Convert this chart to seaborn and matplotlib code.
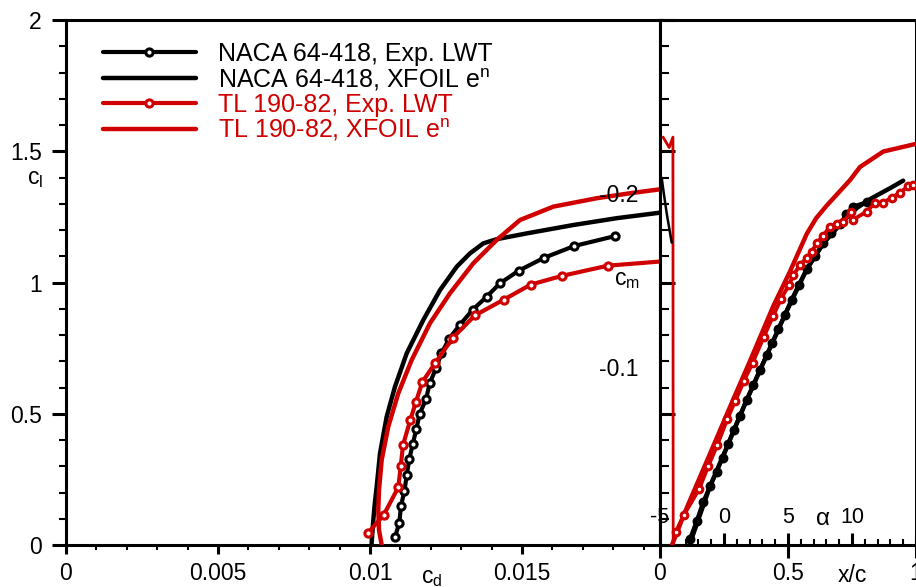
import numpy as np
import matplotlib
matplotlib.use("Agg")
import matplotlib.pyplot as plt
import seaborn as sns
from matplotlib.ticker import MultipleLocator, NullLocator

# ---------------- data ----------------
# drag polars (cl vs cd)
naca_exp_cd = [0.010822, 0.010964, 0.011020, 0.011135, 0.011207, 0.011293, 0.011405, 0.011523,
               0.011635, 0.011842, 0.011964, 0.012171, 0.012352, 0.012599, 0.012951, 0.013378,
               0.013839, 0.014276, 0.014891, 0.015724, 0.016720, 0.018066]
naca_exp_cl = [0.029, 0.085, 0.149, 0.207, 0.265, 0.327, 0.384, 0.441, 0.500, 0.555, 0.616,
               0.673, 0.730, 0.785, 0.838, 0.896, 0.946, 0.997, 1.045, 1.094, 1.139, 1.177]

naca_xf_cd = [0.010050, 0.010080, 0.010109, 0.010160, 0.010220, 0.010329, 0.010549, 0.010822,
              0.011207, 0.011753, 0.012303, 0.012852, 0.013289, 0.013727, 0.014168, 0.015155,
              0.016688, 0.018115, 0.019539, 0.020987]
naca_xf_cl = [0.0, 0.050, 0.095, 0.160, 0.222, 0.349, 0.489, 0.603, 0.730, 0.857, 0.971, 1.060,
              1.111, 1.149, 1.165, 1.187, 1.219, 1.245, 1.266, 1.276]

tl_exp_cd = [0.009928, 0.010450, 0.010931, 0.011013, 0.011086, 0.011326, 0.011513, 0.011727,
             0.012138, 0.012730, 0.013454, 0.014408, 0.015286, 0.016306, 0.017819, 0.021500]
tl_exp_cl = [0.045, 0.114, 0.220, 0.301, 0.381, 0.476, 0.546, 0.622, 0.692, 0.790, 0.875,
             0.935, 0.992, 1.025, 1.064, 1.098]

tl_xf_cd = [0.010385, 0.010296, 0.010273, 0.010296, 0.010385, 0.010602, 0.010931, 0.011372,
            0.011974, 0.012632, 0.013398, 0.014168, 0.014934, 0.016030, 0.017457, 0.018553,
            0.019539, 0.020987]
tl_xf_cl = [0.0, 0.057, 0.133, 0.210, 0.324, 0.451, 0.578, 0.705, 0.845, 0.959, 1.073, 1.162,
            1.238, 1.289, 1.321, 1.340, 1.355, 1.368]

# lift curves (cl vs alpha)
naca_exp_a = [-2.656, -2.133, -1.617, -1.094, -0.570, -0.117, 0.336, 0.781, 1.250, 1.758, 2.289,
              2.813, 3.336, 3.789, 4.242, 4.766, 5.289, 5.859, 6.461, 7.109, 7.758, 8.398,
              9.063, 9.570, 10.102, 11.148]
naca_exp_acl = [0.023, 0.091, 0.165, 0.223, 0.280, 0.333, 0.386, 0.440, 0.493, 0.551, 0.608,
                0.667, 0.723, 0.771, 0.821, 0.878, 0.935, 0.992, 1.050, 1.101, 1.149, 1.187,
                1.221, 1.261, 1.289, 1.306]

naca_xf_a = [-2.70, -1.10, 0.34, 1.76, 3.34, 4.77, 6.46, 7.76, 9.06, 10.10, 11.50, 13.00, 14.00]
naca_xf_acl = [0.0, 0.223, 0.386, 0.551, 0.723, 0.878, 1.050, 1.149, 1.221, 1.275, 1.320,
               1.360, 1.388]

tl_exp_a = [-3.75, -3.125, -1.93, -1.23, -0.52, 0.25, 0.86, 1.56, 2.24, 3.10, 3.85, 4.45, 5.08,
            5.41, 5.94, 6.46, 6.85, 7.27, 7.73, 8.26, 8.80, 9.32, 9.91, 10.10, 11.15, 11.80,
            12.42, 13.10, 13.75, 14.40, 14.79]
tl_exp_acl = [0.051, 0.115, 0.215, 0.301, 0.382, 0.479, 0.547, 0.625, 0.695, 0.792, 0.874,
              0.937, 0.992, 1.027, 1.067, 1.094, 1.117, 1.152, 1.176, 1.213, 1.224, 1.231,
              1.267, 1.240, 1.270, 1.304, 1.304, 1.323, 1.342, 1.367, 1.373]

tl_xf_a = [-4.063, -3.047, -1.875, -0.703, 0.469, 2.031, 3.852, 5.156, 6.461, 7.200, 8.023,
           9.844, 10.625, 12.445, 15.0]
tl_xf_acl = [0.0, 0.126, 0.259, 0.392, 0.526, 0.701, 0.910, 1.042, 1.185, 1.245, 1.293, 1.390,
             1.440, 1.499, 1.528]

# moment traces (cm vs x/c)
tl_cm_x = [0.012, 0.036, 0.0505, 0.0515]
tl_cm_y = [-0.2325, -0.2265, -0.2325, 0.01]
naca_cm_x = [0.0066, 0.0156, 0.027, 0.0457]
naca_cm_y = [-0.2091, -0.1993, -0.1878, -0.1717]

legend_labels = ["NACA 64-418, Exp. LWT", r"NACA 64-418, XFOIL e$^{\rm n}$",
                 "TL 190-82, Exp. LWT", r"TL 190-82, XFOIL e$^{\rm n}$"]
cd_ticks = [0, 0.005, 0.01, 0.015]
cd_ticklabels = ["0", "0.005", "0.01", "0.015"]
cl_ticks = [0, 0.5, 1, 1.5, 2]
cl_ticklabels = ["0", "0.5", "1", "1.5", "2"]
xc_ticks = [0, 0.5, 1]
xc_ticklabels = ["0", "0.5", "1"]
a_ticks = [-5, 0, 5, 10]
a_ticklabels = ["-5", "0", "5", "10"]
cm_ticks = [-0.2, -0.1]
cm_ticklabels = ["-0.2", "-0.1"]

# ---------------- style ----------------
sns.set_theme(style="ticks")
plt.rcParams["font.family"] = ["Liberation Sans", "DejaVu Sans"]
plt.rcParams["axes.unicode_minus"] = False
plt.rcParams["mathtext.fontset"] = "custom"
plt.rcParams["mathtext.rm"] = "Liberation Sans"
plt.rcParams["mathtext.it"] = "Liberation Sans:italic"
for k in ["axes.edgecolor", "xtick.color", "ytick.color", "text.color", "axes.labelcolor"]:
    plt.rcParams[k] = "black"

BLACK = "black"
RED = "#D00000"
FS = 16.5
FS_A = 15.5
SPW = 2.2
LW_XF = 3.2
LW_EX = 3.0
MS = 5.2
MEW = 2.2

W, H = 916, 587
fig = plt.figure(figsize=(W / 100, H / 100), dpi=100)
fig.patch.set_facecolor("white")


def px(l, t, r, b):
    return [l / W, 1 - b / H, (r - l) / W, (b - t) / H]


ax1 = fig.add_axes(px(66, 20, 660, 545))
ax2 = fig.add_axes(px(660, 20, 916, 545))
ax3 = ax2.twiny()
ax4 = ax2.twinx()

# ---------------- left panel: polars ----------------
sns.lineplot(x=np.array(naca_exp_cd), y=np.array(naca_exp_cl), ax=ax1, sort=False, estimator=None,
             color=BLACK, lw=LW_EX, marker="o", ms=MS, mfc="white", mec=BLACK, mew=MEW,
             label=legend_labels[0], zorder=3)
sns.lineplot(x=np.array(naca_xf_cd), y=np.array(naca_xf_cl), ax=ax1, sort=False, estimator=None,
             color=BLACK, lw=LW_XF, label=legend_labels[1], zorder=2)
sns.lineplot(x=np.array(tl_exp_cd), y=np.array(tl_exp_cl), ax=ax1, sort=False, estimator=None,
             color=RED, lw=LW_EX, marker="o", ms=MS, mfc="white", mec=RED, mew=MEW,
             label=legend_labels[2], zorder=5)
sns.lineplot(x=np.array(tl_xf_cd), y=np.array(tl_xf_cl), ax=ax1, sort=False, estimator=None,
             color=RED, lw=LW_XF, label=legend_labels[3], zorder=4)

ax1.set_xlim(0, 0.01954)
ax1.set_ylim(0, 2)
ax1.set_xticks(cd_ticks, labels=cd_ticklabels)
ax1.set_yticks(cl_ticks, labels=cl_ticklabels)
ax1.xaxis.set_minor_locator(MultipleLocator(0.001))
ax1.yaxis.set_minor_locator(MultipleLocator(0.1))
ax1.tick_params(axis="x", which="major", direction="out", length=6.5, width=SPW, pad=5.5,
                labelsize=FS, top=False)
ax1.tick_params(axis="x", which="minor", direction="out", length=3.5, width=1.5, top=False)
ax1.tick_params(axis="y", which="major", direction="out", length=10, width=SPW, pad=7.5,
                labelsize=FS, right=False)
ax1.tick_params(axis="y", which="minor", direction="out", length=5, width=1.5, right=False)
for s in ax1.spines.values():
    s.set_linewidth(SPW)
    s.set_color("black")

ax1.set_ylabel(r"c$_{\rm l}$", rotation=0, fontsize=FS, ha="center", va="center")
ax1.yaxis.set_label_coords(-0.052, 0.699)
ax1.set_xlabel(r"c$_{\rm d}$", fontsize=FS, va="center")
ax1.xaxis.set_label_coords(0.616, -0.061)

handles, labels = ax1.get_legend_handles_labels()
leg = ax1.legend(handles, labels, loc="upper left", bbox_to_anchor=(0.0623, 0.958),
                 frameon=False, fontsize=18, handlelength=3.7, handletextpad=0.88,
                 labelspacing=0.0, borderpad=0, borderaxespad=0, numpoints=1)
for t, c in zip(leg.get_texts(), [BLACK, BLACK, RED, RED]):
    t.set_color(c)

# ---------------- right panel: x/c frame, cl vs alpha, cm ----------------
ax2.set_xlim(0, 1)
ax2.set_ylim(0, 2)
ax2.set_xticks(xc_ticks, labels=xc_ticklabels)
ax2.xaxis.set_minor_locator(NullLocator())
ax2.yaxis.set_major_locator(MultipleLocator(0.5))
ax2.yaxis.set_minor_locator(MultipleLocator(0.1))
ax2.tick_params(axis="x", which="major", direction="out", length=9, width=SPW, pad=3.6,
                labelsize=FS, top=False)
ax2.tick_params(axis="y", which="major", direction="in", length=10.8, width=SPW,
                labelleft=False, right=False)
ax2.tick_params(axis="y", which="minor", direction="in", length=6.5, width=1.5,
                labelleft=False, right=False)
for s in ax2.spines.values():
    s.set_linewidth(SPW)
    s.set_color("black")
ax2.set_xlabel("x/c", fontsize=FS, va="center")
ax2.xaxis.set_label_coords(0.752, -0.059)

# lift curves on the alpha axis
sns.lineplot(x=np.array(tl_xf_a), y=np.array(tl_xf_acl), ax=ax3, sort=False, estimator=None,
             color=RED, lw=LW_XF, legend=False, zorder=2)
sns.lineplot(x=np.array(naca_xf_a), y=np.array(naca_xf_acl), ax=ax3, sort=False, estimator=None,
             color=BLACK, lw=LW_XF, legend=False, zorder=3)
sns.lineplot(x=np.array(naca_exp_a), y=np.array(naca_exp_acl), ax=ax3, sort=False, estimator=None,
             color=BLACK, lw=LW_EX, marker="o", ms=5.6, mfc=BLACK, mec=BLACK, mew=1.5,
             legend=False, zorder=4)
sns.lineplot(x=np.array(tl_exp_a), y=np.array(tl_exp_acl), ax=ax3, sort=False, estimator=None,
             color=RED, lw=2.8, marker="o", ms=4.8, mfc="white", mec=RED, mew=2.2,
             legend=False, zorder=5)
ax3.set_xlim(-5, 15)
ax3.set_ylim(0, 2)
ax3.xaxis.set_ticks_position("bottom")
ax3.xaxis.set_label_position("bottom")
ax3.set_xticks(a_ticks, labels=a_ticklabels)
ax3.xaxis.set_minor_locator(MultipleLocator(1))
ax3.tick_params(axis="x", which="major", direction="in", length=9, width=SPW, pad=-27.5,
                labelsize=FS_A, top=False)
ax3.tick_params(axis="x", which="minor", direction="in", length=4.3, width=1.5, top=False)
for s in ax3.spines.values():
    s.set_visible(False)
ax3.set_xlabel("\u03b1", fontsize=17.5, va="center")
ax3.xaxis.set_label_coords(0.635, 0.0495)

# moment traces and axis
sns.lineplot(x=np.array(tl_cm_x), y=np.array(tl_cm_y), ax=ax4, sort=False, estimator=None,
             color=RED, lw=2.0, legend=False)
sns.lineplot(x=np.array(naca_cm_x), y=np.array(naca_cm_y), ax=ax4, sort=False, estimator=None,
             color=BLACK, lw=1.8, legend=False)
ax4.set_ylim(0.0026, -0.300)
ax4.yaxis.set_ticks_position("left")
ax4.yaxis.set_label_position("left")
ax4.set_yticks(cm_ticks, labels=cm_ticklabels)
ax4.yaxis.set_minor_locator(NullLocator())
ax4.tick_params(axis="y", which="major", length=0, pad=15.8, labelsize=FS, right=False)
for s in ax4.spines.values():
    s.set_visible(False)
ax4.set_ylabel(r"c$_{\rm m}$", rotation=0, fontsize=FS, ha="center", va="center")
ax4.yaxis.set_label_coords(-0.129, 0.505)

fig.savefig("out.png", dpi=100, facecolor="white")
